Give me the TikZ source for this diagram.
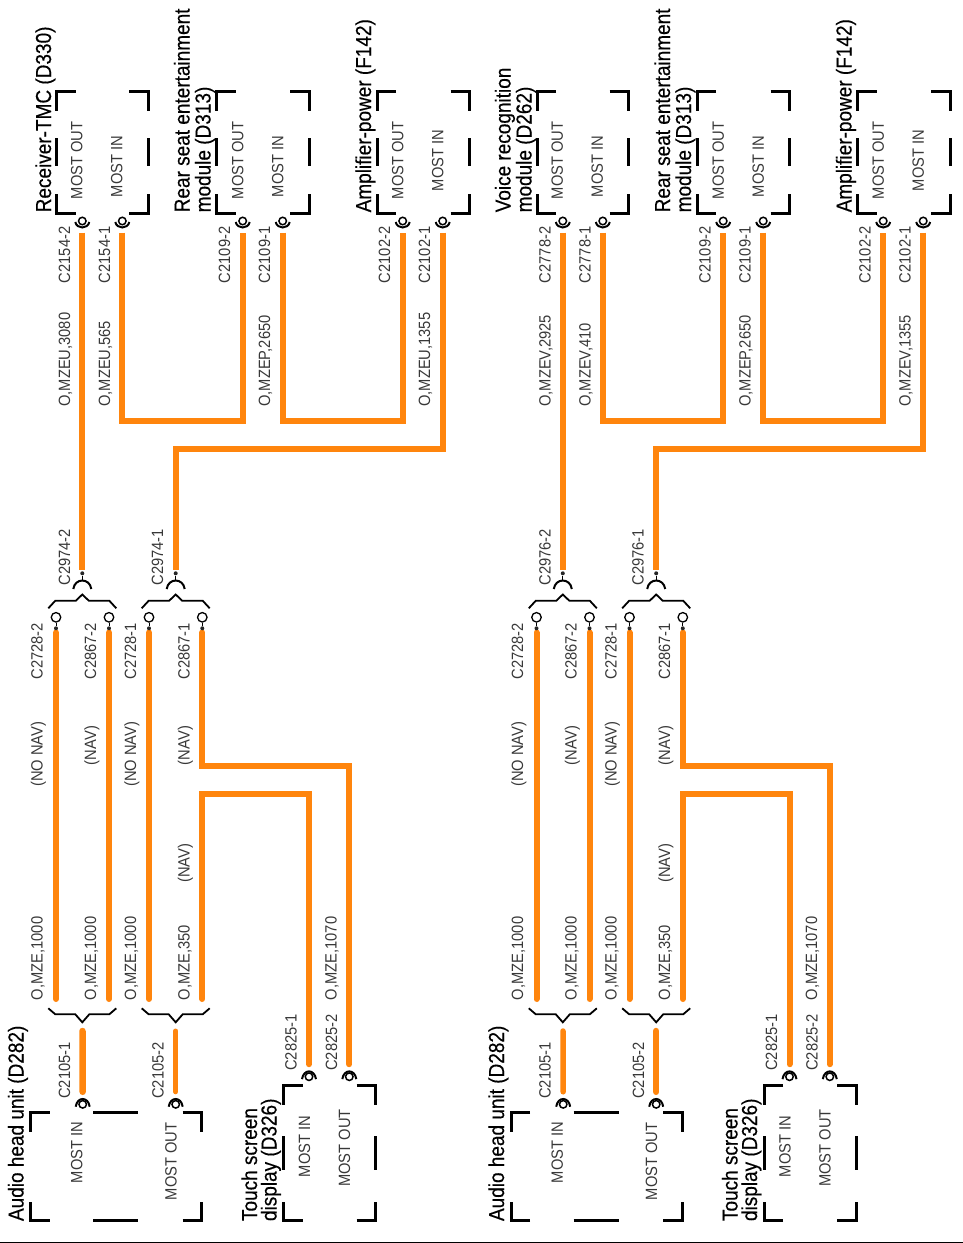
\documentclass[tikz,border=0pt]{standalone}
\usepackage{fontspec}
\setmainfont{Liberation Sans}
\newfontfamily\ttlfont[FakeBold=0.4]{Liberation Sans}
\usetikzlibrary{backgrounds,calc}
\definecolor{wireor}{HTML}{FF850D}
\newcounter{lblc}
\tikzset{
  txt/.style={rotate=90,anchor=base west,inner sep=0pt,outer sep=0pt,text=black!78},
  ttl/.style={rotate=90,anchor=base west,inner sep=0pt,outer sep=0pt,text=black},
  wire/.style={draw=wireor,line width=#1,line join=miter,line cap=butt},
  wire/.default=6pt,
  rwire/.style={draw=wireor,line width=#1,line join=miter,line cap=round},
  rwire/.default=6pt,
  bk/.style={draw=black,line width=3pt,line cap=butt,line join=miter},
  hook/.style={draw=black,line width=2pt,line cap=butt},
  brc/.style={draw=black,line width=1.8pt,line cap=butt,line join=miter},
  pinc/.style={circle,draw=black,fill=white,line width=1.5pt,inner sep=0pt,minimum size=7.5pt},
  ringc/.style={circle,draw=black,fill=white,line width=1.3pt,inner sep=0pt,minimum size=9.5pt},
  dotc/.style={circle,fill=black!85,inner sep=0pt,minimum size=4pt},
  stem/.style={draw=black,line width=1pt}
}
\newcommand\lbl[3]{\stepcounter{lblc}\node[txt] (lbl\thelblc) at (#1,#2) {\scalebox{1}[1.11]{\fontsize{14.7}{16}\selectfont #3}};}
\newcommand\ttlb[3]{\stepcounter{lblc}\node[ttl] (lbl\thelblc) at (#1,#2) {\scalebox{1}[1.14]{\fontsize{19}{22}\ttlfont #3}};}
\newcommand\brk[4]{%
  \draw[bk] (#1+19,#2) -- (#1,#2) -- (#1,#2+19);
  \draw[bk] (#3-19,#2) -- (#3,#2) -- (#3,#2+19);
  \draw[bk] (#1+19,#4) -- (#1,#4) -- (#1,#4-19);
  \draw[bk] (#3-19,#4) -- (#3,#4) -- (#3,#4-19);}
\newcommand\toppin[2]{%
  \node[pinc] (#1) at (#2,221) {};
  \draw[hook] ([shift={(-7,1)}]#1.center) .. controls +(1.5,7.3) and +(-1.5,7.3) .. ([shift={(7,1)}]#1.center);}
\newcommand\botpin[3]{%
  \node[pinc] (#1) at (#2,#3) {};
  \draw[hook] ([shift={(-7,2.4)}]#1.center) .. controls +(1.5,-10.3) and +(-1.5,-10.3) .. ([shift={(7,2.4)}]#1.center);}
\newcommand\upsock[2]{%
  \node[dotc] (#1) at (#2,573.3) {};
  \coordinate (#1h) at (#2,580.5);
  \draw[stem] (#1) -- (#1h);
  \draw[hook] ([shift={(-9,8.5)}]#1h) .. controls +(1.5,-11.3) and +(-1.5,-11.3) .. ([shift={(9,8.5)}]#1h);
  \draw[brc] (#2-34,608.3) -- (#2-27,600.7) -- (#2-6.5,600.7) -- (#2,594.5) -- (#2+6.5,600.7) -- (#2+27,600.7) -- (#2+34,608.3);}
\newcommand\ringpin[2]{%
  \node[dotc] (#1d) at (#2,628.3) {};
  \node[ringc] (#1) at (#2,617.3) {};
  \draw[stem] (#1) -- (#1d);}
\newcommand\lowbrace[1]{%
  \draw[brc] (#1-34,1008.3) -- (#1-27,1014.3) -- (#1-7,1014.3) -- (#1,1022.3) -- (#1+7,1014.3) -- (#1+27,1014.3) -- (#1+34,1008.3);}
% one half of the sheet
% #1 first module title, #2 #3 its connectors, #4 #5 its wire labels, #6 amp wire label, #7 #8 inline connectors, #9 lower wire widths
\newcommand\half[9]{%
  #1
  \ttlb{371}{212.3}{Amplifier-power (F142)}
  \ttlb{189.5}{212.3}{Rear seat entertainment}
  \ttlb{210.5}{212.3}{module (D313)}
  \ttlb{23.5}{1221}{Audio head unit (D282)}
  \ttlb{257}{1221}{Touch screen}
  \ttlb{276.5}{1221}{display (D326)}
  % brackets
  \brk{56.5}{91.5}{148}{213}
  \brk{216.5}{91.5}{309}{213}
  \brk{377}{91.5}{469.7}{213}
  \foreach \xx in {56.5,148,216.5,309,377,469.7}{\draw[bk] (\xx,138) -- (\xx,166);}
  \brk{30.5}{1112.5}{201.7}{1220.7}
  \draw[bk] (93,1112.5) -- (138,1112.5);
  \draw[bk] (93,1220.7) -- (138,1220.7);
  \brk{283.5}{1085.5}{375.7}{1220.7}
  \foreach \xx in {283.5,375.7}{\draw[bk] (\xx,1136) -- (\xx,1169.5);}
  % MOST labels
  \lbl{82.3}{199}{MOST OUT}\lbl{122.3}{197}{MOST IN}
  \lbl{243.3}{199}{MOST OUT}\lbl{283.3}{197}{MOST IN}
  \lbl{403.3}{199}{MOST OUT}\lbl{443.3}{191}{MOST IN}
  \lbl{82.3}{1183}{MOST IN}\lbl{176.5}{1200}{MOST OUT}
  \lbl{310}{1177}{MOST IN}\lbl{350}{1186.7}{MOST OUT}
  % connector labels
  \lbl{70}{283}{#2}\lbl{110}{283}{#3}
  \lbl{230}{283}{C2109-2}\lbl{270}{283}{C2109-1}
  \lbl{390}{283}{C2102-2}\lbl{430}{283}{C2102-1}
  \lbl{70}{406.7}{#4}\lbl{110}{406.7}{#5}
  \lbl{270}{406.7}{O,MZEP,2650}\lbl{430}{406.7}{#6}
  \lbl{70}{585.5}{#7}\lbl{163}{585.5}{#8}
  \lbl{42.5}{679.3}{C2728-2}\lbl{96}{679.3}{C2867-2}
  \lbl{136}{679.3}{C2728-1}\lbl{189.5}{679.3}{C2867-1}
  \lbl{42.5}{786.7}{(NO NAV)}\lbl{96}{765}{(NAV)}
  \lbl{136}{786.7}{(NO NAV)}\lbl{189.5}{765}{(NAV)}
  \lbl{189.5}{882.7}{(NAV)}
  \lbl{42.5}{1000}{O,MZE,1000}\lbl{96}{1000}{O,MZE,1000}
  \lbl{136}{1000}{O,MZE,1000}\lbl{189.5}{1000}{O,MZE,350}
  \lbl{336.7}{1000}{O,MZE,1070}
  \lbl{70}{1098.7}{C2105-1}\lbl{163.5}{1098.7}{C2105-2}
  \lbl{296.7}{1070.7}{C2825-1}\lbl{337}{1070.7}{C2825-2}
  % pins
  \toppin{ta}{82.3}\toppin{tb}{122.3}\toppin{tc}{242.7}
  \toppin{td}{282.7}\toppin{te}{402.7}\toppin{tf}{442.7}
  \upsock{sa}{82.3}\upsock{sb}{175.7}
  \ringpin{ra}{56}\ringpin{rb}{109}\ringpin{rc}{149}\ringpin{rd}{202.3}
  \lowbrace{82.3}\lowbrace{175.7}
  \botpin{ba}{82.7}{1104.3}\botpin{bb}{175.7}{1104.3}
  \botpin{bc}{309}{1076.7}\botpin{bd}{349.3}{1076.7}
  \coordinate (la) at (56,999);\coordinate (lb) at (109,999);
  \coordinate (lc) at (149,999);\coordinate (ld) at (202.3,999);
  \coordinate (ua) at (82.5,1031);\coordinate (ub) at (175.7,1031);
  % wires
  \begin{scope}[on background layer]
    \draw[wire,shorten <=7pt,shorten >=1.5pt] (ta) -- (sa);
    \draw[wire,shorten <=7pt,shorten >=7pt] (tb) -- (tb |- 0,421) -- (tc |- 0,421) -- (tc);
    \draw[wire,shorten <=7pt,shorten >=7pt] (td) -- (td |- 0,421) -- (te |- 0,421) -- (te);
    \draw[wire,shorten <=7pt,shorten >=1.5pt] (tf) -- (tf |- 0,449) -- (sb |- 0,449) -- (sb);
    \draw[rwire,shorten <=2pt] (rad) -- (la);
    \draw[rwire,shorten <=2pt] (rbd) -- (lb);
    \draw[rwire,shorten <=2pt] (rcd) -- (lc);
    \draw[rwire,shorten <=2pt,shorten >=8pt] (rdd) -- (rdd |- 0,766.3) -- (bd |- 0,766.3) -- (bd);
    \draw[rwire,shorten >=8pt] (ld) -- (ld |- 0,794) -- (bc |- 0,794) -- (bc);
    #9
  \end{scope}}
\begin{document}
\begin{tikzpicture}[x=1pt,y=-1pt]
\useasboundingbox (0,0) rectangle (963,1243);
\half{\ttlb{51}{212.3}{Receiver-TMC (D330)}}
 {C2154-2}{C2154-1}{O,MZEU,3080}{O,MZEU,565}{O,MZEU,1355}{C2974-2}{C2974-1}
 {\draw[rwire=6.5pt,shorten >=8pt] (ua) -- (ba);
  \draw[rwire=5pt,shorten >=8pt] (ub) -- (bb);}
\begin{scope}[xshift=480.5pt,name prefix=r-]
\half{\ttlb{30}{212.3}{Voice recognition}\ttlb{51}{212.3}{module (D262)}}
 {C2778-2}{C2778-1}{O,MZEV,2925}{O,MZEV,410}{O,MZEV,1355}{C2976-2}{C2976-1}
 {\draw[rwire=5.5pt,shorten >=8pt] (ua) -- (ba);
  \draw[rwire=6.5pt,shorten >=8pt] (ub) -- (bb);}
\end{scope}
\draw[black,line width=1pt] (0,1242.5) -- (963,1242.5);
\end{tikzpicture}
\end{document}
